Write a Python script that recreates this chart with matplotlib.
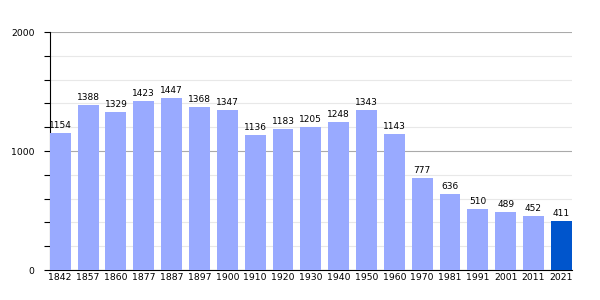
import matplotlib
matplotlib.use('Agg')
import matplotlib.pyplot as plt
from matplotlib.ticker import MultipleLocator

years = ['1842', '1857', '1860', '1877', '1887', '1897', '1900', '1910', '1920',
         '1930', '1940', '1950', '1960', '1970', '1981', '1991', '2001', '2011', '2021']
population = [1154, 1388, 1329, 1423, 1447, 1368, 1347, 1136, 1183,
              1205, 1248, 1343, 1143, 777, 636, 510, 489, 452, 411]

colors = ['#99aaff'] * (len(years) - 1) + ['#0055cc']

fig = plt.figure(figsize=(6, 3), dpi=100)
ax = fig.add_axes([0.083, 0.1, 0.87, 0.793])

x = range(len(years))
ax.bar(x, population, width=0.75, color=colors, zorder=3)
for xi, v in zip(x, population):
    ax.text(xi, v + 25, str(v), ha='center', va='bottom', fontsize=6.5, zorder=4)

ax.set_xlim(-0.375, len(years) - 0.625)
ax.set_ylim(0, 2000)
ax.set_xticks(list(x))
ax.set_xticklabels(years, fontsize=6.7)
ax.set_yticks([0, 1000, 2000])
ax.set_yticklabels(['0', '1000', '2000'], fontsize=6.7)
ax.yaxis.set_minor_locator(MultipleLocator(200))
ax.grid(which='major', axis='y', color='#aaaaaa', linewidth=0.8, zorder=0)
ax.grid(which='minor', axis='y', color='#e8e8e8', linewidth=0.8, zorder=0)
ax.tick_params(axis='x', length=0, pad=2)
ax.tick_params(axis='y', which='both', length=4, width=0.8, pad=7)
for s in ['top', 'right']:
    ax.spines[s].set_visible(False)

fig.savefig('out.png')
